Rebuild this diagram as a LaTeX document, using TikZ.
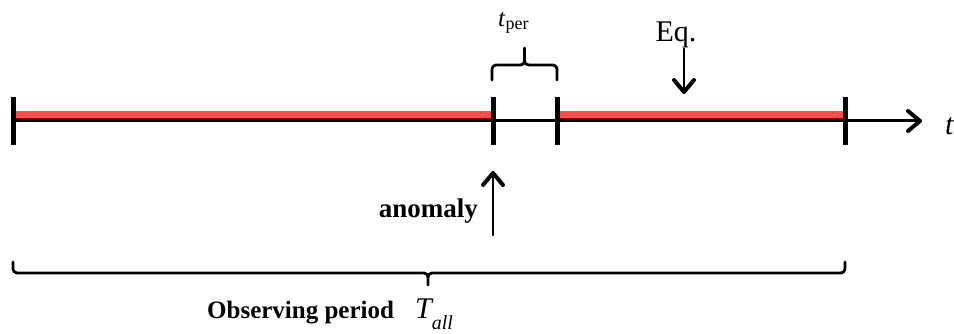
\documentclass[tikz,border=0pt]{standalone}
\usepackage{fontspec}
\setmainfont{Liberation Serif}
\usetikzlibrary{arrows.meta}
\definecolor{bandred}{RGB}{255,77,77}
\tikzset{barb/.tip={Straight Barb[length=12pt,width=20pt,line width=4pt,round]}}
\begin{document}
\begin{tikzpicture}[x=1pt,y=-1pt,line join=round,line cap=round,>=barb]
\useasboundingbox (0,0) rectangle (954,334);
\path
(13,121) coordinate (t0) (493,121) coordinate (t1)
(557,121) coordinate (t2) (845,121) coordinate (t3) (922,121) coordinate (tend);
\draw[bandred,line width=8pt,line cap=butt] ([yshift=6pt]t0) -- ([yshift=6pt]t1);
\draw[bandred,line width=8pt,line cap=butt] ([yshift=6pt]t2) -- ([yshift=6pt]t3);
\draw[red!60!black,line width=1.5pt,line cap=butt] ([yshift=2.5pt]t0) -- ([yshift=2.5pt]t1);
\draw[red!60!black,line width=1.5pt,line cap=butt] ([yshift=2.5pt]t2) -- ([yshift=2.5pt]t3);
\draw[line width=3pt,->] (t0) -- (tend);
\foreach \p in {t0,t1,t2,t3}
  \draw[line width=5pt,line cap=butt] ([yshift=24pt]\p) -- ([yshift=-24pt]\p);
\node[anchor=base west,inner sep=0,font=\fontsize{30}{30}\selectfont\itshape] (tlab) at (945,135) {t};
% t_per
\path (492,80) coordinate (b0) (557,80) coordinate (b1) (524.5,48) coordinate (bm);
\draw[line width=2.8pt,rounded corners=4pt] (b0) -- ++(0,-15) -| (bm) (bm) |- ([yshift=15pt]b1) -- (b1);
\node[anchor=base west,inner sep=0,font=\fontsize{25}{25}\selectfont] (tper) at (498,27)
  {\textit{t}\raisebox{-3pt}{\fontsize{18}{18}\selectfont per}};
% equation
\node[anchor=base,inner sep=0,font=\fontsize{30}{30}\selectfont] (eq) at (676,42) {Eq.};
\coordinate (eqtip) at (684,94);
\draw[line width=2.5pt,->] (eqtip |- eq.south) -- (eqtip);
% anomaly
\node[anchor=base east,inner sep=0,font=\fontsize{27}{27}\selectfont\bfseries] (anom) at (478,218) {anomaly};
\path (493,235) coordinate (anomtail) (493,171) coordinate (anomtip);
\draw[line width=2.5pt,->] (anomtail) -- (anomtip);
% observing period
\path (13,262) coordinate (o0) (845,262) coordinate (o1) (428,285) coordinate (om);
\draw[line width=2.8pt,rounded corners=4pt] (o0) -- ++(0,11) -| (om) (om) |- ([yshift=-11pt]o1) -- (o1);
\node[anchor=base west,inner sep=0,font=\fontsize{25}{25}\selectfont\bfseries] (obs) at (207,318) {Observing period};
\node[anchor=base west,inner sep=0,font=\fontsize{30}{30}\selectfont\itshape] (tall) at (415,318)
  {T\raisebox{-11pt}{\fontsize{20}{20}\selectfont all}};
\end{tikzpicture}
\end{document}
